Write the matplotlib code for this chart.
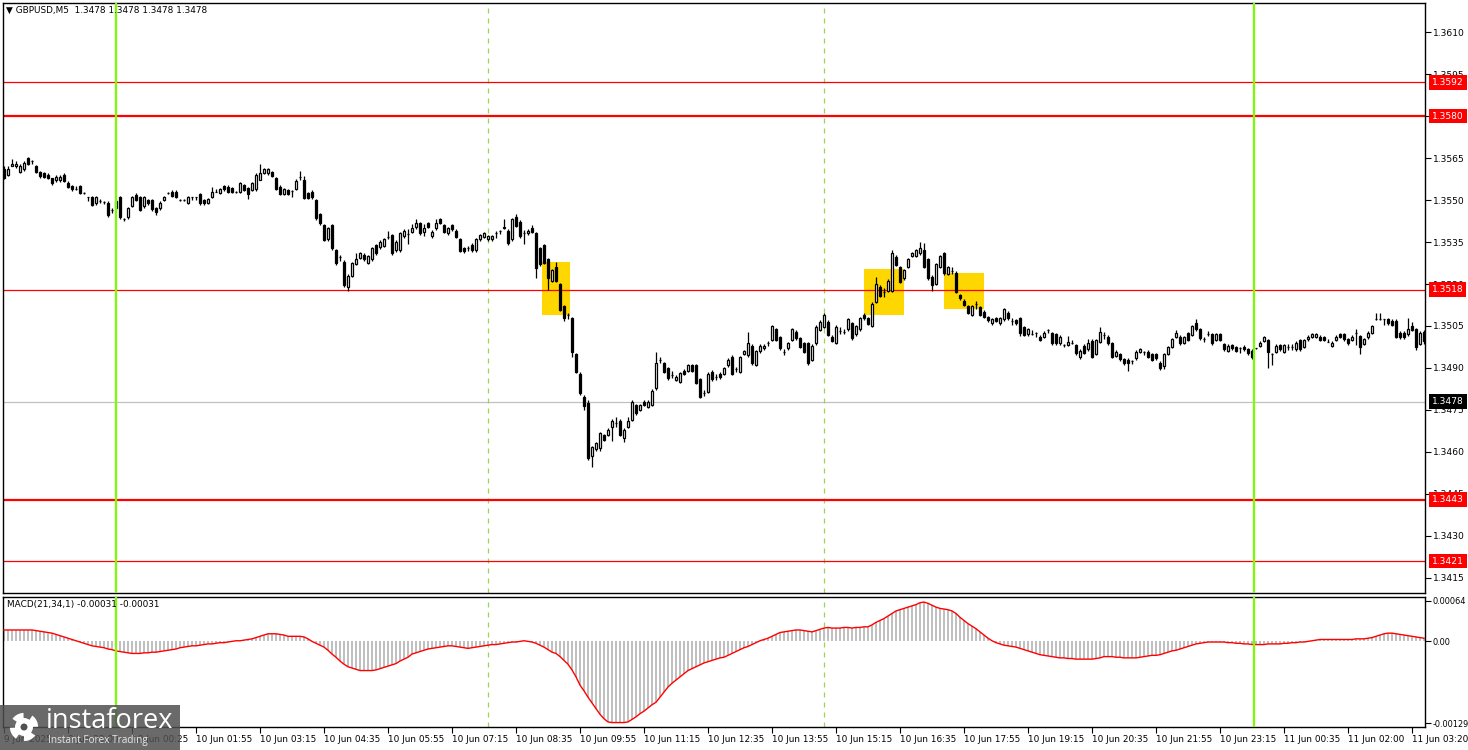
import matplotlib
matplotlib.use("Agg")
import matplotlib.pyplot as plt
import matplotlib.transforms as mtransforms
from matplotlib.patches import Rectangle, Circle
import numpy as np

plt.rcParams['font.family'] = 'DejaVu Sans'

symbol_title = "GBPUSD,M5  1.3478 1.3478 1.3478 1.3478"
macd_title = "MACD(21,34,1) -0.00031 -0.00031"

# candle values are pips above 1.3400 (M5 bars)
base = 1.34
opens = [
    161, 159, 162, 162, 160, 161, 165, 164, 162, 160, 159.5, 159, 157.7, 157, 157, 158.9,
    156.2, 155, 153.8, 155, 152.4, 151, 151, 148.8, 149.8, 149.4, 149, 146.4, 147, 151, 143.2, 143.8,
    148, 151.8, 151, 147.8, 150, 150, 147, 147, 150, 152.6, 153, 153, 150, 150, 149, 151,
    151, 152, 150, 149, 151, 153, 152.6, 155, 154.8, 154.2, 153, 153, 155.4, 154.2, 153.6, 153.8,
    157.2, 159.8, 159.5, 160, 158, 154.8, 152.2, 153.6, 153.3, 153.8, 158.3, 157, 152.4, 153, 150, 145,
    141, 136, 141, 132.1, 129.5, 128, 118.8, 122.9, 127.2, 129.2, 130.4, 127.4, 128.8, 133.9, 133.1, 133.6,
    136.9, 137.5, 132.1, 132.1, 137, 138, 138.7, 140.2, 141.9, 138.7, 141.9, 137.1, 139.9, 143.1, 141, 138.1,
    141, 139, 136, 132.7, 132.7, 134, 132.1, 136, 136.9, 136, 136, 138.1, 139, 140.1, 139, 136,
    144, 142.3, 138.1, 138.1, 139.9, 138.1, 132.7, 133.9, 128.8, 121.2, 126.2, 120, 112.1, 108.9, 107.7, 95,
    87.9, 79.8, 77.6, 58.6, 61, 61.3, 66.1, 66.1, 68.8, 70.5, 71.2, 64.9, 69, 71.4, 76.8, 75,
    78, 76.2, 76.8, 82.7, 92.9, 91.7, 89.9, 87.5, 85.7, 85.1, 89, 89, 91, 91, 86, 81.2,
    81.5, 88.7, 86.9, 87.9, 87.9, 91, 94, 89.5, 88.7, 95.1, 94.6, 97.9, 91.1, 95.9, 97, 98.8,
    100, 103.8, 101, 95.8, 97, 100, 103, 100.6, 98.8, 98.8, 92.9, 98.8, 103.6, 104.8, 106.5, 101.2,
    99, 103.3, 103, 103.8, 106, 102.1, 103.8, 109, 107.7, 105, 113.7, 119, 117.3, 117.6, 117.6, 129.8,
    126, 122, 126.2, 130, 130, 131, 132.1, 128.8, 122.6, 120, 126.2, 131, 123.6, 124.8, 124, 116.1,
    114, 112.1, 109, 112.9, 111.7, 110.1, 108.1, 105.9, 107.7, 106, 107.4, 109.8, 106.9, 107.1, 107.7, 104.5,
    102.1, 102.1, 102.6, 101.2, 101.2, 103.6, 102.4, 102.1, 98.8, 98.2, 98.2, 98.8, 98.2, 93.8, 97.9, 96.7,
    99.8, 95, 99.4, 101.8, 101.2, 98.8, 94.3, 95, 93.1, 92.9, 92.6, 93.5, 95.8, 95.8, 95.8, 95,
    95, 91.9, 90.7, 95, 97.6, 101.2, 101.2, 99, 102.4, 101.8, 106.2, 103.8, 100.2, 102.1, 102.1, 100,
    102.1, 98.6, 96.2, 98.2, 97.4, 97, 97.6, 96.7, 96.2, 97, 98, 99.8, 100, 95, 95.8, 98.2,
    95.8, 97.6, 97.4, 96.7, 100, 97.6, 100.2, 101.2, 101.2, 101.2, 100.9, 99.4, 97.9, 100, 102.1, 102.1,
    100.2, 100, 102.4, 101.4, 98.6, 101, 102.6, 107.4, 107.4, 107.4, 107.4, 106.9, 106.9, 102.6, 102.6, 102.1,
    105, 103.8, 98.6, 103,
]
closes = [
    158, 161, 163, 163, 162, 163.3, 163, 164, 160, 158.7, 158.3, 158, 156, 158.3, 158.3, 156.9,
    154.8, 153.8, 153.8, 152.6, 152.4, 151, 148.2, 151, 149.8, 149.4, 144.6, 146.4, 149.8, 143.8, 143.2, 147,
    151, 150, 146.4, 151, 148.8, 146.7, 145.8, 149, 151, 152.6, 151.4, 151.2, 150, 150, 151, 151,
    151, 148.8, 148.8, 150.2, 153, 153, 153.8, 153.8, 153, 153, 153, 156, 153.6, 152.2, 156, 159,
    159.5, 161, 161, 158.6, 153.8, 152.2, 153.8, 152.2, 153.3, 156.9, 158.3, 150.6, 150.6, 151, 143.5, 141.9,
    135.7, 139.9, 132.7, 127.4, 129.5, 119.6, 122.9, 127.6, 129.1, 131, 128.8, 130, 132.7, 131, 135.1, 136,
    136.9, 131, 135.1, 138.1, 139, 138, 139.9, 141.9, 138.1, 139.9, 140.5, 138.7, 141.9, 141.9, 138.7, 139.9,
    139.5, 136.9, 131.9, 131.9, 132.7, 132.1, 136, 137.5, 138.1, 137.1, 137.1, 138.1, 139, 140.5, 134.5, 143.1,
    140.7, 137.1, 138.1, 139, 138.7, 125.6, 127.1, 127.6, 122, 125, 121.2, 110.7, 107.7, 108.9, 95.8, 88.7,
    81, 76.4, 57.7, 61.7, 63.1, 66.7, 64.3, 67.9, 71.2, 70.5, 66.1, 67.9, 71.2, 78, 73.8, 76.8,
    76.8, 78, 81.9, 91.7, 92.9, 88.7, 86.3, 87.5, 86.9, 88.1, 87.9, 91, 89, 84.8, 79.8, 81.2,
    87.9, 86, 86.9, 86.7, 89.9, 92.9, 87.9, 89.5, 93.8, 95.9, 98.8, 91.7, 95.9, 97.9, 97.9, 98.8,
    105, 100, 97, 95.8, 98.8, 103.8, 100.6, 97.6, 95.8, 91.7, 97.9, 104.8, 106.5, 109, 101.8, 99.8,
    104.8, 103.3, 103, 107.4, 100.6, 105, 107.7, 107.7, 105.7, 112.9, 120, 115.7, 117.3, 121.2, 131, 126.8,
    120.8, 125, 128.8, 131, 132.1, 132.7, 126.2, 122, 119.6, 127.1, 130, 123.8, 126, 124.8, 117.3, 114.9,
    112.5, 109.8, 112.1, 112.9, 109, 108.3, 107.1, 107.4, 106.9, 107.7, 111, 107.7, 106.9, 106, 102.6, 101.8,
    103.8, 102.1, 102.6, 100, 102.6, 103.6, 98.8, 98.8, 101.2, 98.2, 99.4, 98.8, 95.2, 96.2, 95.5, 99.1,
    94, 100, 103, 101.8, 98.8, 94, 95.8, 93.1, 91.7, 91.7, 92.6, 95.8, 96.7, 95.8, 94, 92.9,
    93.5, 89.9, 95, 97.4, 100.2, 102.4, 98.8, 101, 100, 105, 103.8, 100.6, 100.2, 102.1, 98.8, 102.1,
    100, 96.7, 97.9, 97, 96.2, 97, 96.7, 95.2, 93.8, 97, 99, 101, 95.8, 95, 97.9, 96.7,
    98.2, 97.6, 97.4, 99, 96.7, 100, 101.2, 102.1, 102.1, 100, 100, 99.4, 99, 101.2, 101.2, 100.2,
    98.8, 101.2, 102.4, 97.6, 100.2, 102.6, 105, 107.4, 107.4, 107.4, 106, 105.4, 101.2, 101, 101, 103.8,
    103.6, 97.6, 102.6, 99.8,
]
highs = [
    162, 162, 164.5, 164, 163, 164, 165.5, 164.2, 162.5, 160.5, 160, 159.5, 158, 159, 159, 159.5,
    156.8, 155.5, 155, 155.5, 153, 151.2, 151.5, 151.5, 150.2, 149.6, 149.5, 147.2, 150.5, 151.5, 143.5, 147.5,
    151.5, 152.6, 151.5, 151.5, 150.5, 150.5, 147.5, 149.5, 151.5, 152.8, 153.5, 153.5, 150.2, 150.2, 151.5, 151.2,
    151.2, 152.5, 150.5, 150.6, 154.5, 154, 154.3, 155.5, 155.2, 154.6, 153.2, 156.5, 155.8, 154.6, 156.5, 159.5,
    162.9, 161.5, 161.5, 160.5, 158.3, 155.2, 154.3, 154, 153.5, 157.5, 160.5, 158.5, 152.8, 153.4, 150.4, 145.5,
    141.5, 140.5, 141.5, 132.5, 130.2, 128.5, 123.5, 128, 131, 131.5, 131, 130.5, 133.2, 134.4, 135.6, 136.5,
    139, 138, 135.6, 138.6, 139.5, 139.5, 141.5, 143.1, 142.3, 141.5, 142.3, 139.2, 143.1, 143.6, 141.5, 140.4,
    141.5, 139.5, 136.5, 133.2, 133.5, 134.5, 136.5, 138, 138.6, 137.6, 137.6, 138.8, 139.2, 143.1, 139.5, 143.6,
    145, 142.8, 139.3, 139.5, 141.1, 138.6, 133.2, 134.4, 129.3, 125.5, 127.8, 120.5, 112.6, 109.8, 108.2, 95.5,
    88.4, 80.3, 78.5, 62.2, 63.6, 67.2, 66.6, 68.4, 71.7, 72.5, 71.7, 68.4, 72.5, 78.5, 77.3, 77.3,
    78.5, 78.5, 82.4, 95.8, 94, 92.2, 90.4, 88.8, 87.4, 88.6, 89.5, 91.5, 91.5, 91.5, 86.5, 82.2,
    88.4, 89.2, 87.8, 88.4, 90.4, 93.4, 94.5, 90.5, 94.3, 96.4, 103, 98.4, 96.4, 98.4, 98.4, 99.8,
    105.5, 104.3, 101.5, 96.8, 99.3, 104.3, 103.5, 101.1, 99.3, 99.3, 98.4, 105.3, 107, 109.5, 107, 101.7,
    105.3, 104.5, 104, 107.9, 106.5, 105.5, 108.2, 109.5, 108.2, 113.4, 122.5, 119.5, 118.5, 121.7, 132.2, 130.3,
    126.5, 125.5, 129.3, 131.5, 132.6, 135, 134.8, 129.3, 123.1, 127.6, 130.5, 131.5, 126.5, 126, 124.5, 116.6,
    114.5, 112.6, 112.6, 114, 112.2, 110.6, 108.6, 107.9, 108.2, 108.2, 111.5, 110.3, 108, 107.6, 108.2, 105,
    104.3, 103.5, 102.8, 101.7, 103.1, 103.8, 102.9, 102.6, 101.7, 98.4, 101.5, 100, 98.7, 96.7, 98.4, 100.5,
    100.3, 100.5, 104.5, 103, 101.7, 99.3, 96.3, 95.5, 93.6, 93.4, 92.8, 96.3, 97.2, 96, 96.3, 95.5,
    95.5, 92.4, 95.5, 97.9, 100.7, 103.7, 101.7, 101.5, 102.9, 105.5, 107.5, 104.3, 101.2, 103.2, 102.6, 102.6,
    102.6, 99.1, 98.4, 98.7, 97.9, 97.5, 98.1, 97.2, 96.7, 97.3, 99.5, 101.5, 100.5, 95.2, 98.4, 98.7,
    98.7, 98.6, 98.5, 99.5, 100.5, 100.5, 101.7, 102.6, 102.6, 101.7, 101.4, 100.4, 99.5, 101.7, 102.6, 102.6,
    100.7, 101.7, 103.8, 101.9, 100.7, 103.1, 105.5, 109.5, 109.5, 107.6, 107.9, 107.4, 107.4, 103.1, 103.1, 108,
    106.5, 104.3, 103.1, 103.5,
]
lows = [
    157.5, 158.5, 162, 161.5, 159.5, 160.5, 162.5, 162.8, 159.5, 158, 157.8, 157.5, 155.5, 156.5, 156.5, 156.3,
    154.3, 153.3, 153.6, 152.2, 152, 149.8, 147.8, 148.3, 149, 148.6, 144, 145.5, 146.5, 143.3, 142.5, 143.2,
    147.5, 149.5, 146, 147.3, 148.3, 146.2, 144.5, 146.5, 149.5, 152, 151, 150.8, 149.8, 149.8, 148.5, 150,
    150, 148.3, 148.3, 148.6, 150.6, 152.8, 152.2, 153.3, 152.6, 152.6, 152.5, 152.6, 153.2, 150.2, 153.2, 153.3,
    157, 159.3, 159, 158.2, 153.4, 151.8, 151.8, 151.8, 151, 153.4, 157.2, 150.2, 150.2, 150.5, 143, 141.2,
    135.2, 135.5, 132.2, 126.8, 128.2, 119, 117.6, 122.5, 126.8, 128.8, 128.3, 127, 128.3, 130.5, 132.6, 133.2,
    136, 130.5, 131.6, 131.6, 136.5, 134.4, 138.2, 139.7, 137.6, 137.1, 140, 136.6, 139.4, 141.4, 138.2, 137.6,
    139, 136.4, 131.4, 130.9, 131.8, 131.6, 131.6, 135.5, 136.4, 135.5, 135.5, 136.5, 137.8, 139.6, 134, 135.5,
    140.2, 136.6, 134.3, 137.6, 138.2, 122, 126.6, 127.1, 117.9, 120.7, 120.7, 110.2, 106.9, 107.6, 94, 88.2,
    80.5, 75, 57.2, 54.8, 60.5, 60.5, 63.8, 65.6, 63.9, 68.8, 65.6, 63.5, 68.5, 70.9, 73.3, 74.5,
    76.3, 75.7, 76.3, 82.2, 91.8, 88.2, 85.8, 86.3, 85.2, 84.6, 87.4, 88.5, 88.5, 84.3, 79.3, 80,
    81, 85.5, 85.8, 86.2, 87.4, 90.5, 87.4, 88.5, 88.2, 94.6, 94.1, 91.2, 90.6, 95.4, 96.5, 97.8,
    99.5, 99.5, 96.5, 94.8, 96.5, 99.5, 100.1, 97.1, 95.3, 91.2, 92.4, 98.3, 103.1, 104.3, 101.3, 99.3,
    98.5, 102.3, 102, 103.3, 100.1, 101.6, 103.3, 107.2, 105.2, 104.5, 113.2, 115.2, 115.2, 117.1, 117.1, 126.3,
    120.3, 121.5, 125.7, 129.5, 129.5, 130.5, 125.7, 121.5, 117.6, 119.5, 125.7, 123.3, 123.1, 123.6, 116.8, 114.4,
    112, 109.3, 108.5, 111, 108.5, 107.8, 106.6, 105.4, 106.4, 105.5, 106.9, 107.2, 105.5, 105.5, 101.5, 101.3,
    101.6, 101.9, 101.2, 99.5, 100.7, 102.5, 98.3, 98.3, 98.3, 97.5, 97.7, 98.6, 94.7, 93.3, 95, 96.2,
    93.5, 94.5, 98.9, 100.5, 98.3, 93.5, 93.8, 92.6, 91.2, 88.8, 91.4, 93, 95.3, 94.6, 93.5, 92.4,
    93, 89.4, 89.5, 94.5, 97.1, 100.7, 98.3, 98.5, 99.5, 101.3, 103.3, 100.1, 99.2, 101.4, 98.3, 99.5,
    99.5, 96.2, 95.7, 96.5, 95.7, 95.4, 96.2, 94.7, 93.3, 96.7, 97.5, 99.3, 89.9, 91, 95.3, 96.2,
    95.3, 96.6, 96.4, 96.2, 96.2, 97.1, 99.7, 100.7, 100.7, 99.5, 99.5, 99.2, 97.4, 99.5, 100.7, 99.7,
    98.3, 99.5, 98.2, 95, 98.1, 100.5, 102.1, 107.2, 107.2, 105.5, 105.5, 104.9, 100.7, 100.5, 100.5, 101.6,
    103.1, 96.5, 98.1, 98.5,
]

# MACD main = signal (period 1), units of 0.00001
macd = [
    18, 18, 18, 18, 18, 18, 18, 18, 17, 16, 15, 14, 13, 11, 9, 7,
    5, 3, 1, -1, -3, -5, -7, -8, -9, -10, -12, -13, -15, -16, -17, -18,
    -19, -19, -19, -18, -18, -17, -17, -16, -15, -14, -13, -12, -10, -9, -8, -7,
    -7, -6, -5, -4, -4, -3, -2, -2, -1, 0, 1, 1, 2, 3, 4, 6,
    8, 10, 12, 12, 12, 11, 10, 8, 8, 8, 8, 7, 4, 0, -3, -6,
    -9, -14, -20, -25, -31, -36, -40, -42, -44, -46, -46, -46, -46, -45, -43, -41,
    -39, -37, -35, -31, -28, -25, -20, -18, -16, -14, -12, -11, -10, -9, -8, -7,
    -7, -8, -9, -10, -11, -10, -9, -8, -7, -6, -5, -5, -4, -3, -2, -1,
    -1, 0, 1, 0, -1, -3, -6, -9, -13, -17, -19, -24, -30, -36, -45, -56,
    -69, -78, -88, -97, -106, -115, -122, -127, -128, -128, -128, -128, -127, -123, -119, -114,
    -110, -105, -100, -96, -88, -80, -72, -66, -61, -56, -51, -46, -43, -40, -37, -34,
    -32, -30, -28, -26, -25, -22, -19, -16, -13, -10, -8, -5, -2, 1, 3, 5,
    8, 11, 14, 15, 16, 17, 18, 18, 17, 16, 15, 17, 19, 21, 22, 21,
    21, 21, 22, 22, 21, 22, 22, 23, 23, 26, 30, 33, 36, 40, 44, 48,
    50, 52, 54, 56, 58, 61, 62, 60, 57, 54, 52, 51, 50, 48, 44, 38,
    33, 28, 24, 20, 15, 10, 5, 1, -2, -4, -6, -7, -8, -9, -11, -13,
    -15, -17, -19, -21, -22, -23, -24, -25, -26, -26, -27, -27, -28, -28, -28, -28,
    -28, -27, -26, -24, -24, -24, -25, -25, -26, -26, -26, -26, -25, -24, -23, -22,
    -22, -21, -19, -17, -15, -14, -12, -10, -8, -6, -4, -3, -2, -1, -1, -1,
    -1, -1, -2, -2, -3, -3, -4, -4, -5, -5, -5, -5, -4, -4, -4, -4,
    -3, -3, -2, -2, -1, -1, 0, 1, 2, 3, 3, 3, 3, 3, 3, 3,
    3, 3, 4, 4, 4, 5, 6, 8, 10, 12, 13, 13, 12, 11, 10, 9,
    8, 7, 6, 5,
]

time_labels = ["9 Jun 2025", "9 Jun 23:00", "10 Jun 00:25", "10 Jun 01:55", "10 Jun 03:15",
               "10 Jun 04:35", "10 Jun 05:55", "10 Jun 07:15", "10 Jun 08:35", "10 Jun 09:55",
               "10 Jun 11:15", "10 Jun 12:35", "10 Jun 13:55", "10 Jun 15:15", "10 Jun 16:35",
               "10 Jun 17:55", "10 Jun 19:15", "10 Jun 20:35", "10 Jun 21:55", "10 Jun 23:15",
               "11 Jun 00:35", "11 Jun 02:00", "11 Jun 03:20"]
price_ticks = [1.3415, 1.3430, 1.3445, 1.3460, 1.3475, 1.3490, 1.3505, 1.3520,
               1.3535, 1.3550, 1.3565, 1.3580, 1.3595, 1.3610]
macd_ticks = [0.00064, 0.0, -0.00129]
macd_tick_labels = ["0.00064", "0.00", "-0.00129"]

levels_thin = [1.3592, 1.3518, 1.3421]
levels_thick = [1.3580, 1.3443]
bid = 1.3478
day_bars = [28, 312.5]          # midnight separators
session_bars = [121, 205]       # dashed separators
# signal zones: first bar, last bar, low, high
zones = [(134.6, 141.4, 1.35089, 1.35279),
         (215.0, 224.9, 1.35090, 1.35254),
         (235.0, 244.9, 1.35110, 1.35240)]

W, H = 1468, 750
fig = plt.figure(figsize=(W / 100, H / 100), dpi=100)
fig.patch.set_facecolor('white')
ax = fig.add_axes([3 / W, 1 - 593 / H, 1422 / W, 590 / H])
ax2 = fig.add_axes([3 / W, 1 - 727 / H, 1422 / W, 130 / H])

x = np.arange(len(closes))
o = base + np.array(opens) / 1e4
c = base + np.array(closes) / 1e4
hi = base + np.array(highs) / 1e4
lo = base + np.array(lows) / 1e4
up = c >= o

for a in (ax, ax2):
    a.set_xlim(-0.25, 355.25)
    for s in a.spines.values():
        s.set_color('black')
        s.set_linewidth(1.0)
    a.set_facecolor('white')

# zones under candles
for x0, x1, y0, y1 in zones:
    ax.add_patch(Rectangle((x0, y0), x1 - x0, y1 - y0, fc='#FFD700', ec='none', zorder=1))

# level lines
for lv in levels_thin:
    ax.axhline(lv, color='#FF0000', lw=0.9, zorder=2)
for lv in levels_thick:
    ax.axhline(lv, color='#FF0000', lw=1.6, zorder=2)
ax.axhline(bid, color='#C0C0C0', lw=0.9, zorder=1.5)

for b in session_bars:
    for a in (ax, ax2):
        a.axvline(b, color='#9ED35A', lw=0.9, ls=(0, (4, 4)), zorder=1.6)
for b in day_bars:
    for a in (ax, ax2):
        a.axvline(b, color='#7CFC00', lw=1.6, zorder=5)

# candles
ax.vlines(x, lo, hi, color='black', lw=0.9, zorder=3)
body_lo = np.minimum(o, c)
body_h = np.abs(c - o)
ax.bar(x[up], body_h[up], bottom=body_lo[up], width=0.72, color='white',
       edgecolor='black', linewidth=0.9, zorder=4)
ax.bar(x[~up], body_h[~up], bottom=body_lo[~up], width=0.72, color='black',
       edgecolor='black', linewidth=0.9, zorder=4)

ax.set_ylim(1.340964, 1.362036)
ax.yaxis.tick_right()
ax.set_yticks(price_ticks)
ax.set_yticklabels([f"{v:.4f}" for v in price_ticks])
ax.tick_params(axis='y', direction='out', length=4, width=0.8, pad=2, labelsize=6.6, colors='black')
ax.set_xticks([])

trans = mtransforms.blended_transform_factory(ax.transAxes, ax.transData)
trans = trans + mtransforms.ScaledTranslation(7 / 100, 0, fig.dpi_scale_trans)
for lv in levels_thin + levels_thick:
    ax.text(1.0, lv, f"{lv:.4f}", transform=trans, ha='left', va='center', color='white',
            fontsize=6.6, zorder=10, clip_on=False,
            bbox=dict(boxstyle='square,pad=0.3', fc='#FF0000', ec='none'))
ax.text(1.0, bid, f"{bid:.4f}", transform=trans, ha='left', va='center', color='white',
        fontsize=6.6, zorder=10, clip_on=False,
        bbox=dict(boxstyle='square,pad=0.3', fc='black', ec='none'))

# MACD panel
mv = np.array(macd) / 1e5
ax2.bar(x, mv, width=0.5, color='#C0C0C0', zorder=2)
ax2.plot(x, mv, color='#FF0000', lw=1.0, zorder=3)
ax2.set_ylim(-0.00135, 0.00070)
ax2.yaxis.tick_right()
ax2.set_yticks(macd_ticks)
ax2.set_yticklabels(macd_tick_labels)
ax2.tick_params(axis='y', direction='out', length=4, width=0.8, pad=1.5, labelsize=5.9)
tick_pos = np.arange(len(time_labels)) * 16
ax2.set_xticks(tick_pos)
ax2.set_xticklabels(time_labels, ha='left')
ax2.tick_params(axis='x', direction='out', length=4, width=0.8, pad=2, labelsize=6.4)

fig.text(6 / W, 1 - 10 / H, "\u25BC " + symbol_title, fontsize=6.4, ha='left', va='center')
fig.text(7 / W, 1 - 605 / H, macd_title, fontsize=6.4, ha='left', va='center')

# instaforex watermark
px = mtransforms.IdentityTransform()
fig.add_artist(Rectangle((0, 0), 180, 45, transform=px, fc='#505050', ec='none', alpha=0.85, zorder=20))
fig.add_artist(Circle((24, 23), 11, transform=px, fc='none', ec='white', lw=4.5,
                      ls=(0, (1.6, 1.2)), zorder=21))
fig.add_artist(Circle((24, 23), 9, transform=px, fc='white', ec='none', zorder=21))
fig.add_artist(Circle((24, 23), 3.5, transform=px, fc='#505050', ec='none', zorder=22))
fig.text(46 / W, 1 - 721 / H, "instaforex", fontsize=19.5, color='white', ha='left', va='center',
         family='Open Sans', zorder=23)
fig.text(48 / W, 1 - 741 / H, "Instant Forex Trading", fontsize=7.2, color='#e8e8e8', ha='left',
         va='center', family='Open Sans', zorder=23)

fig.savefig("out.png", dpi=100, facecolor='white')
